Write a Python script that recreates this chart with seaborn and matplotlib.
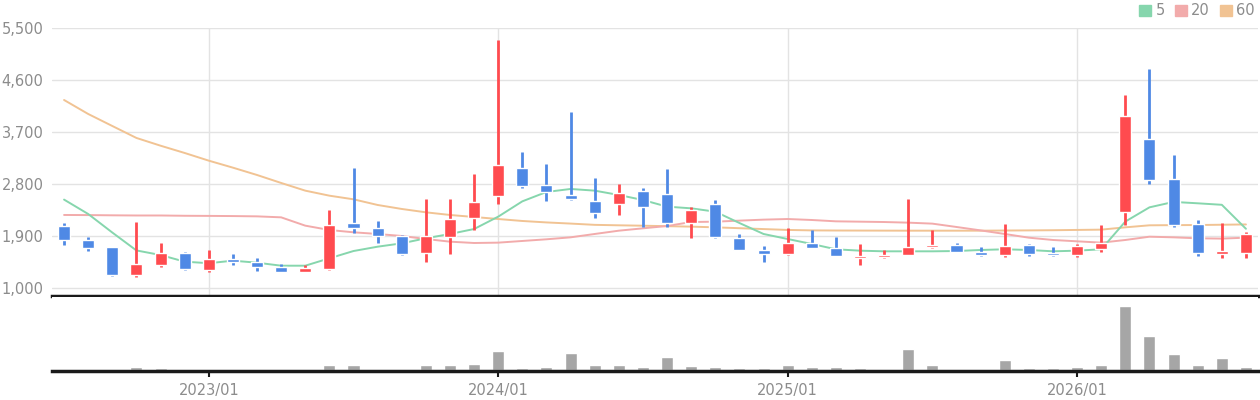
import numpy as np
import pandas as pd
import matplotlib
matplotlib.use("Agg")
import matplotlib.pyplot as plt
import seaborn as sns
from matplotlib.patches import Patch
from matplotlib.ticker import FuncFormatter

sns.set_theme(style="white")
plt.rcParams['font.family'] = ['DejaVu Sans']

# 월봉 데이터 (2022/07 ~ 2026/08)
months = pd.date_range("2022-07-01", periods=50, freq="MS").strftime("%Y/%m").tolist()

opens = [2073, 1831, 1710, 1230, 1398, 1606, 1317, 1502, 1456, 1369,
         1283, 1329, 2125, 2039, 1905, 1611, 1888, 2217, 2598, 3077,
         2783, 2610, 2506, 2459, 2679, 2627, 2130, 2454, 1866, 1663,
         1594, 1779, 1692, 1525, 1542, 1577, 1710, 1744, 1623, 1577,
         1744, 1606, 1577, 1680, 2321, 3579, 2887, 2108, 1594, 1611]
closes = [1831, 1698, 1225, 1415, 1606, 1329, 1502, 1456, 1369, 1283,
          1346, 2091, 2039, 1905, 1594, 1900, 2194, 2489, 3129, 2771,
          2667, 2546, 2304, 2644, 2407, 2130, 2350, 1888, 1663, 1594,
          1779, 1698, 1559, 1554, 1571, 1710, 1744, 1629, 1577, 1727,
          1594, 1577, 1727, 1779, 3977, 2875, 2096, 1611, 1640, 1935]
highs = [2125, 1883, 1710, 2148, 1779, 1623, 1658, 1589, 1519, 1415,
         1398, 2355, 3077, 2160, 1917, 2541, 2541, 2973, 5293, 3354,
         3146, 4047, 2904, 2800, 2731, 3060, 2402, 2523, 1935, 1732,
         2039, 2004, 1883, 1762, 1658, 2541, 2004, 1779, 1710, 2108,
         1762, 1710, 1762, 2091, 4341, 4791, 3302, 2177, 2125, 1969]
lows = [1744, 1646, 1213, 1196, 1369, 1317, 1283, 1404, 1300, 1283,
        1283, 1317, 1957, 1779, 1577, 1456, 1594, 2009, 2459, 2737,
        2511, 2523, 2217, 2264, 2056, 2061, 1871, 1857, 1663, 1456,
        1577, 1698, 1559, 1404, 1525, 1577, 1692, 1629, 1559, 1542,
        1559, 1559, 1542, 1629, 2091, 2806, 2061, 1559, 1525, 1525]

# 이동평균선
ma5 = [2530, 2281, 1960, 1650, 1571, 1456, 1429, 1473, 1438, 1386,
       1386, 1514, 1640, 1715, 1773, 1860, 1935, 2021, 2235, 2500,
       2662, 2714, 2685, 2610, 2523, 2408, 2379, 2321, 2125, 1935,
       1848, 1762, 1670, 1646, 1635, 1635, 1635, 1640, 1658, 1670,
       1658, 1635, 1646, 1670, 2150, 2396, 2490, 2466, 2440, 2025]
ma20 = [2264, 2262, 2258, 2255, 2255, 2250, 2248, 2245, 2240, 2223,
        2079, 2004, 1964, 1935, 1900, 1848, 1802, 1779, 1785, 1814,
        1843, 1877, 1935, 1992, 2033, 2073, 2142, 2148, 2166, 2183,
        2194, 2177, 2154, 2148, 2142, 2131, 2114, 2056, 1997, 1935,
        1871, 1831, 1808, 1785, 1831, 1888, 1877, 1860, 1855, 1871]
ma60 = [4254, 4012, 3804, 3597, 3463, 3337, 3204, 3083, 2956, 2818,
        2685, 2598, 2535, 2437, 2368, 2310, 2264, 2229, 2194, 2160,
        2135, 2115, 2093, 2085, 2078, 2070, 2062, 2050, 2035, 2020,
        2005, 1997, 1995, 1994, 1993, 1992, 1992, 1992, 1992, 1995,
        1997, 2000, 2005, 2010, 2050, 2085, 2088, 2090, 2095, 2100]

# 거래량 (상대값)
volume = [0, 0, 0, 7, 4, 0, 0, 0, 0, 0,
          0, 13, 13, 0, 0, 16, 16, 19, 58, 4,
          7, 52, 13, 16, 7, 40, 10, 7, 4, 4,
          13, 7, 7, 4, 0, 64, 16, 0, 0, 31,
          4, 4, 7, 16, 196, 103, 49, 13, 37, 7]

year_ticks = ["2023/01", "2024/01", "2025/01", "2026/01"]

UP, DOWN = "#ff4b4f", "#4f89e5"
C5, C20, C60 = "#86d6ad", "#f2abab", "#f1c393"
GRAY_TXT = "#8c8c8c"

idx = np.arange(len(months))
o, c, h, l = map(np.array, (opens, closes, highs, lows))
colors = np.where(c >= o, UP, DOWN)

fig = plt.figure(figsize=(12.6, 4.0), dpi=100)
ax = fig.add_axes([52/1260, 1 - 296/400, 1206/1260, 268/400])
axv = fig.add_axes([52/1260, 1 - 371/400, 1206/1260, 74/400])

# 이동평균선
sns.lineplot(x=idx, y=ma60, ax=ax, color=C60, lw=1.4, zorder=2)
sns.lineplot(x=idx, y=ma20, ax=ax, color=C20, lw=1.4, zorder=2)
sns.lineplot(x=idx, y=ma5, ax=ax, color=C5, lw=1.4, zorder=2)

# 캔들
ax.vlines(idx, l, h, color=colors, lw=2, zorder=3)
body = np.maximum(np.abs(c - o), 30)
ax.bar(idx, body, bottom=np.minimum(o, c), width=0.5, color=colors, zorder=4)

ax.set_xlim(-0.5, len(months) - 0.5)
ax.set_ylim(1000 - 8 * 4500 / 260, 5500)
ax.set_yticks([1000, 1900, 2800, 3700, 4600, 5500])
ax.yaxis.set_major_formatter(FuncFormatter(lambda v, p: f"{int(v):,}"))
tick_pos = [months.index(m) for m in year_ticks]
ax.set_xticks(tick_pos)
ax.set_xticklabels([])
ax.grid(True, color="#e3e3e3", lw=1)
ax.tick_params(axis="y", length=0, pad=6, labelsize=10.5, labelcolor=GRAY_TXT)
ax.tick_params(axis="x", length=0)
for s in ["top", "right", "left"]:
    ax.spines[s].set_visible(False)
ax.spines["bottom"].set_color("#1a1a1a")
ax.spines["bottom"].set_linewidth(2.5)
ax.set_xlabel("")
ax.set_ylabel("")

# 거래량
sns.barplot(x=idx, y=volume, ax=axv, color="#a6a6a6", width=0.5, saturation=1)
axv.set_xlim(-0.5, len(months) - 0.5)
axv.set_ylim(-4, 224)
axv.set_xticks(tick_pos)
axv.set_xticklabels(year_ticks)
axv.set_yticks([])
axv.tick_params(axis="x", length=4, width=1.5, color="#1a1a1a", pad=5,
                labelsize=10.5, labelcolor=GRAY_TXT, bottom=True)
for s in ["top", "right", "left"]:
    axv.spines[s].set_visible(False)
axv.spines["bottom"].set_color("#1a1a1a")
axv.spines["bottom"].set_linewidth(2.5)
axv.spines["bottom"].set_position(("data", -4))
axv.set_xlabel("")
axv.set_ylabel("")

handles = [Patch(color=C5, label="5"), Patch(color=C20, label="20"), Patch(color=C60, label="60")]
leg = fig.legend(handles=handles, loc="upper right", bbox_to_anchor=(1256/1260, 0.995),
                 ncol=3, frameon=False, handlelength=0.8, handleheight=0.8,
                 handletextpad=0.3, columnspacing=0.7, fontsize=10.5,
                 borderaxespad=0, borderpad=0.1)
for t in leg.get_texts():
    t.set_color(GRAY_TXT)

fig.savefig("out.png", dpi=100)
